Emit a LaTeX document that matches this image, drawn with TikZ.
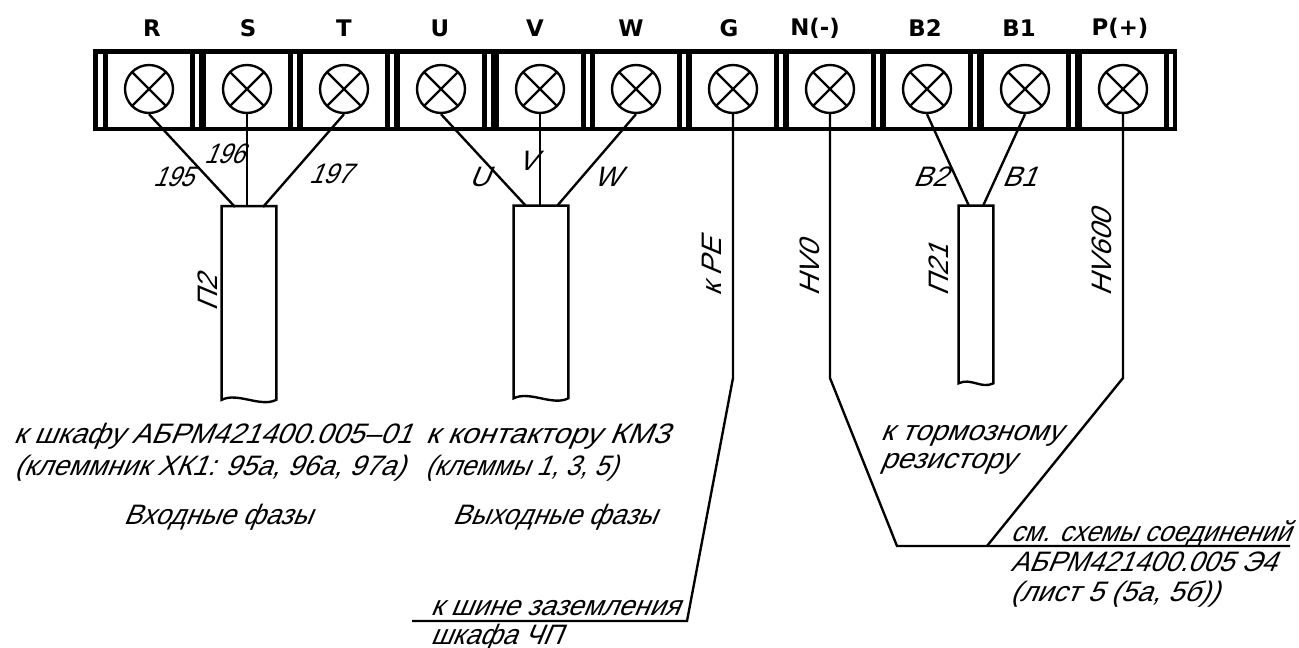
\documentclass[tikz,border=0pt]{standalone}
\usepackage{fontspec}
\setmainfont{Liberation Sans}
\newfontfamily\headfont{DejaVu Sans}
\newfontfamily\gostfont[FakeSlant=0.42]{Liberation Sans}
\tikzset{
  wire/.style={line width=1.35pt},
  clamp/.style={circle,draw,line width=1.35pt,fill=white,minimum size=0.96cm,inner sep=0pt,
    path picture={\draw[line width=1.35pt] (path picture bounding box.north west) -- (path picture bounding box.south east)
      (path picture bounding box.north east) -- (path picture bounding box.south west);}},
  termsq/.style={rectangle,fill=white,minimum width=1.64cm,minimum height=1.46cm,inner sep=0pt},
  head/.style={font=\headfont\bfseries\fontsize{13}{13}\selectfont,inner sep=0pt},
  lab/.style={font=\gostfont\fontsize{16}{16}\selectfont,inner sep=0pt},
  st/.style={font=\gostfont\addfontfeature{FakeStretch=#1}\fontsize{16}{16}\selectfont},
  txt/.style={lab,anchor=base west},
  vtxt/.style={lab,rotate=90,anchor=base west},
  cable/.style={rectangle,inner sep=0pt,minimum width=1.08cm}
}
\begin{document}
\begin{tikzpicture}[x=0.02cm,y=-0.02cm]
        \useasboundingbox (0,0) rectangle (1299,648);
        % terminal block
        \fill[black] (93,49) rectangle (1177,131);
        \fill[white] (98,54) rectangle (103,127);
        \foreach \tname/\cx/\hx/\htext in {R/149/152/R,S/247/248/S,T/344/344/T,U/441/440/U,V/540/535/V,W/636/631/W,G/733/729/G,N/830/815/N(-),Btwo/927/925/B2,Bone/1025/1019/B1,P/1123/1120/P(+)}{
          \node[termsq] (sq\tname) at (\cx,90.5) {};
          \fill[white] (\cx+46,54) rectangle (\cx+50,127);
          \node[clamp] (t\tname) at (\cx,89) {};
          \node[head] (h\tname) at (\hx,28) {\htext};
        }
        % cables
        \node[cable,minimum height=3.86cm] (p2) at (249,303) {};
        \node[cable,minimum height=3.84cm] (pm) at (541,302) {};
        \node[cable,minimum width=0.68cm,minimum height=3.54cm] (p21) at (976,294.5) {};
        \foreach \cb/\bend in {p2/8,pm/8,p21/6}{
          \draw[wire,fill=white] (\cb.north west) -- (\cb.south west)
            .. controls +(\bend*2,-\bend) and +(-\bend*2,\bend) .. (\cb.south east)
            -- (\cb.north east) -- cycle;
        }
        % wires to cables
        \coordinate (w195) at (235,207);
        \coordinate (w197) at (263,207);
        \coordinate (wu) at (526,206);
        \coordinate (ww) at (557,206);
        \coordinate (wbb) at (969,206);
        \coordinate (wba) at (983,206);
        \draw[wire] (tR.south) -- (w195);
        \draw[wire] (tS.south) -- (tS.south |- p2.north);
        \draw[wire] (tT.south) -- (w197);
        \draw[wire] (tU.south) -- (wu);
        \draw[wire] (tV.south) -- (tV.south |- pm.north);
        \draw[wire] (tW.south) -- (ww);
        \draw[wire] (tBtwo.south) -- (wbb);
        \draw[wire] (tBone.south) -- (wba);
        % free lines
        \coordinate (gk) at (733,378);
        \coordinate (ga) at (687,621);
        \coordinate (gb) at (412,621);
        \coordinate (nk) at (830,378);
        \coordinate (na) at (897,546);
        \coordinate (pk) at (1123,378);
        \coordinate (pa) at (987,546);
        \coordinate (nb) at (1290,546);
        \draw[wire] (tG.south) -- (gk) -- (ga) -- (gb);
        \draw[wire] (tN.south) -- (nk) -- (na) -- (nb);
        \draw[wire] (tP.south) -- (pk) -- (pa);
        % wire labels
        \node[lab,st=0.85] (l195) at (173,177) {195};
        \node[lab,st=0.85] (l196) at (224,154) {196};
        \node[lab,st=0.9] (l197) at (330,174) {197};
        \node[lab] (lu) at (479,177) {U};
        \node[lab] (lv) at (527,161) {V};
        \node[lab] (lw) at (607,177) {W};
        \node[lab] (lbb) at (930,177) {B2};
        \node[lab] (lba) at (1019,177) {B1};
        \node[vtxt] (lp2) at (217,312) {П2};
        \node[vtxt] (lpe) at (721,297) {к PE};
        \node[vtxt] (lhv) at (819,297) {HV0};
        \node[vtxt] (lp21) at (948,297) {П21};
        \node[vtxt] (lhvs) at (1111,297) {HV600};
        % captions
        \node[txt,st=1.02] (c1) at (13,444) {к шкафу АБРМ421400.005–01};
        \node[txt,st=0.99] (c2) at (14,476) {(клеммник ХК1: 95а, 96а, 97а)};
        \node[txt,st=0.97] (c3) at (123,525) {Входные фазы};
        \node[txt,st=1.08] (c4) at (425,444) {к контактору КМ3};
        \node[txt,st=0.92] (c5) at (425,476) {(клеммы 1, 3, 5)};
        \node[txt,st=0.95] (c6) at (452,525) {Выходные фазы};
        \node[txt,st=0.99] (c7) at (430,616) {к шине заземления};
        \node[txt,st=0.96] (c8) at (430,644) {шкафа ЧП};
        \node[txt,st=1.03] (c9) at (880,441) {к тормозному};
        \node[txt,st=1.03] (c10) at (880,469) {резистору};
        \node[txt,st=0.94] (c11) at (1010,541) {см. схемы соединений};
        \node[txt,st=0.98] (c12) at (1010,572) {АБРМ421400.005 Э4};
        \node[txt,st=1.01] (c13) at (1010,602) {(лист 5 (5а, 5б))};
\end{tikzpicture}
\end{document}
